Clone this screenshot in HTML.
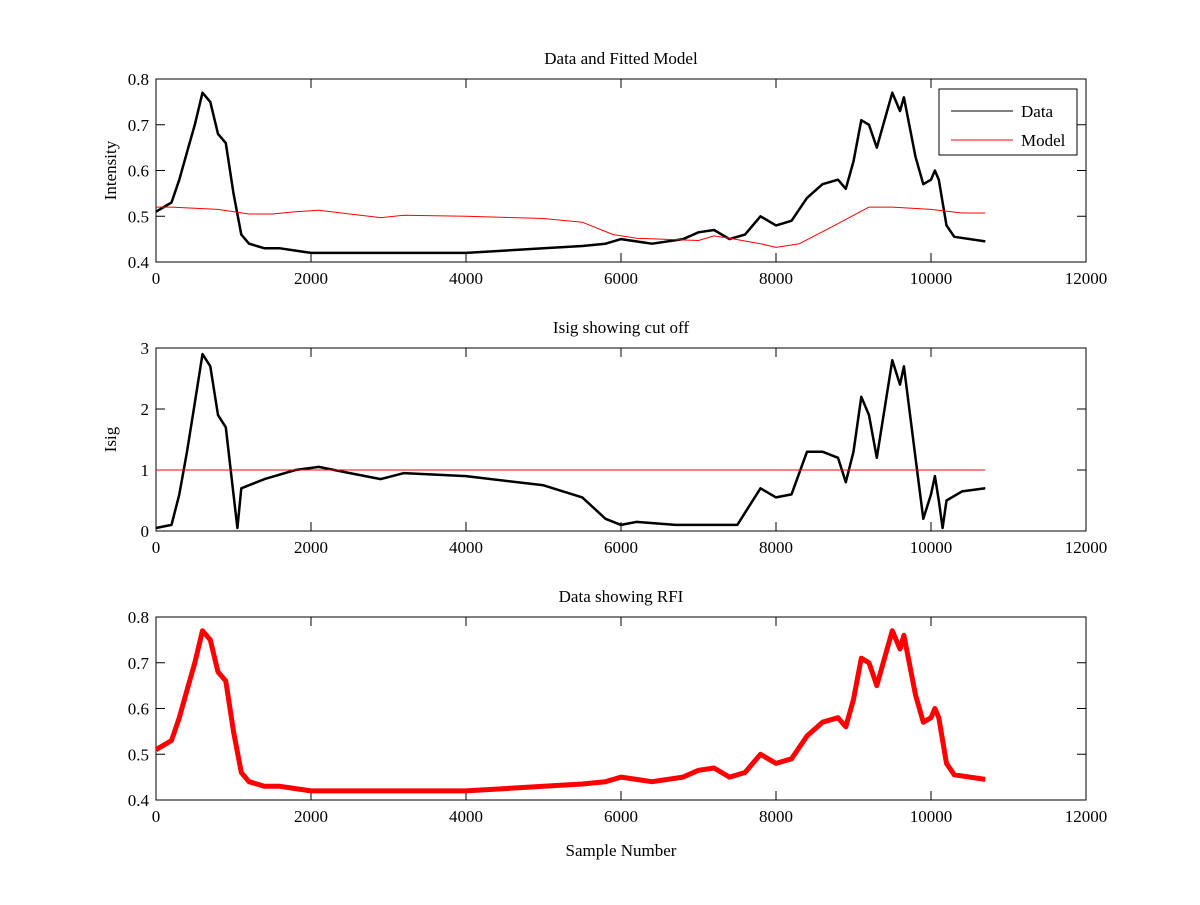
<!DOCTYPE html>
<html><head><meta charset="utf-8"><style>
body{margin:0;background:#fff}
svg text{font-family:"Liberation Serif",serif;font-size:17px;fill:#000}
</style></head><body>
<svg id="fig" width="1200" height="900" xmlns="http://www.w3.org/2000/svg"></svg>
<script>
const xTicks=[0,2000,4000,6000,8000,10000,12000];
const dataX=[0,200,300,400,500,600,700,800,900,1000,1100,1200,1400,1600,1800,2000,2500,3000,3500,4000,4500,5000,5500,5800,6000,6400,6800,7000,7200,7400,7600,7800,8000,8200,8400,8600,8800,8900,9000,9100,9200,9300,9500,9600,9650,9800,9900,10000,10050,10100,10200,10300,10700];
const dataY=[0.51,0.53,0.58,0.64,0.70,0.77,0.75,0.68,0.66,0.55,0.46,0.44,0.43,0.43,0.425,0.42,0.42,0.42,0.42,0.42,0.425,0.43,0.435,0.44,0.45,0.44,0.45,0.465,0.47,0.45,0.46,0.50,0.48,0.49,0.54,0.57,0.58,0.56,0.62,0.71,0.70,0.65,0.77,0.73,0.76,0.63,0.57,0.58,0.60,0.58,0.48,0.455,0.445];
const modelX=[0,200,800,1200,1500,1800,2100,2500,2900,3200,4000,5000,5500,5900,6200,7000,7200,7400,7800,8000,8300,8700,9200,9500,10000,10400,10700];
const modelY=[0.52,0.52,0.515,0.505,0.505,0.51,0.513,0.505,0.497,0.502,0.50,0.495,0.487,0.46,0.452,0.447,0.457,0.452,0.44,0.432,0.44,0.475,0.52,0.52,0.515,0.507,0.507];
const isigX=[0,200,300,400,500,600,700,800,900,1000,1050,1100,1400,1800,2100,2500,2900,3200,4000,5000,5500,5800,6000,6200,6700,7000,7500,7800,8000,8200,8400,8600,8800,8900,9000,9100,9200,9300,9500,9600,9650,9800,9900,10000,10050,10100,10150,10200,10400,10700];
const isigY=[0.05,0.1,0.6,1.3,2.1,2.9,2.7,1.9,1.7,0.6,0.05,0.7,0.85,1.0,1.05,0.95,0.85,0.95,0.9,0.75,0.55,0.2,0.1,0.15,0.1,0.1,0.1,0.7,0.55,0.6,1.3,1.3,1.2,0.8,1.3,2.2,1.9,1.2,2.8,2.4,2.7,1.2,0.2,0.6,0.9,0.5,0.05,0.5,0.65,0.7];
const cutX=[0,10700], cutY=[1,1];
const svg=document.getElementById('fig');
const NS='http://www.w3.org/2000/svg';
function mk(tag,attrs,parent){const e=document.createElementNS(NS,tag);for(const k in attrs)e.setAttribute(k,attrs[k]);(parent||svg).appendChild(e);return e;}
const L=156,R=1086;
function panel(name,top,bot,ymin,ymax,yTicks,yLabel,title,fmt){
  const g=mk('g',{});
  
  
  const sx=v=>L+(v-0)/12000*(R-L);
  const sy=v=>bot-(v-ymin)/(ymax-ymin)*(bot-top);
  mk('rect',{x:L,y:top,width:R-L,height:bot-top,fill:'#fff',stroke:'#000','stroke-width':1},g);
  xTicks.forEach(t=>{const x=sx(t);
    mk('line',{x1:x,x2:x,y1:bot,y2:bot-9,stroke:'#000'},g);
    mk('line',{x1:x,x2:x,y1:top,y2:top+9,stroke:'#000'},g);
    const tx=mk('text',{x:x,y:bot+22,'text-anchor':'middle'},g);tx.textContent=t;
    
    });
  yTicks.forEach(t=>{const y=sy(t);
    mk('line',{x1:L,x2:L+9,y1:y,y2:y,stroke:'#000'},g);
    mk('line',{x1:R,x2:R-9,y1:y,y2:y,stroke:'#000'},g);
    const tx=mk('text',{x:L-7,y:y+6,'text-anchor':'end'},g);tx.textContent=fmt(t);
    
    });
  const tt=mk('text',{x:(L+R)/2,y:top-15,'text-anchor':'middle'},g);tt.textContent=title;
  
  
  if(yLabel){const yl=mk('text',{x:0,y:0,'text-anchor':'middle',transform:`translate(${L-40},${(top+bot)/2}) rotate(-90)`},g);yl.textContent=yLabel;
    
    }
  return {g,sx,sy};
}
function line(p,xs,ys,color,w,name){
  const d=xs.map((x,i)=>(i?'L':'M')+p.sx(x).toFixed(1)+','+p.sy(ys[i]).toFixed(1)).join(' ');
  const e=mk('path',{d:d,fill:'none',stroke:color,'stroke-width':w,'stroke-linejoin':'round'},p.g);
  
  
}
const p1=panel('panel-data-model',79,262,0.4,0.8,[0.4,0.5,0.6,0.7,0.8],'Intensity','Data and Fitted Model',t=>t.toFixed(1));
line(p1,dataX,dataY,'#000',2.5,'data-line');
line(p1,modelX,modelY,'#f00',1,'model-line');
const lg=mk('g',{},p1.g);


mk('rect',{x:939,y:89,width:138,height:66,fill:'#fff',stroke:'#000'},lg);
mk('line',{x1:951,x2:1013,y1:111,y2:111,stroke:'#000'},lg);
mk('line',{x1:951,x2:1013,y1:140,y2:140,stroke:'#f00'},lg);
let t1=mk('text',{x:1021,y:117,'font-size':'18'},lg);t1.textContent='Data';


let t2=mk('text',{x:1021,y:146,'font-size':'18'},lg);t2.textContent='Model';


const p2=panel('panel-isig',348,531,0,3,[0,1,2,3],'Isig','Isig showing cut off',t=>String(t));
line(p2,isigX,isigY,'#000',2.5,'isig-line');
line(p2,cutX,cutY,'#f00',1,'cutoff-line');
const p3=panel('panel-rfi',617,800,0.4,0.8,[0.4,0.5,0.6,0.7,0.8],null,'Data showing RFI',t=>t.toFixed(1));
line(p3,dataX,dataY,'#f00',5,'rfi-line');
const xl=mk('text',{x:621,y:856,'text-anchor':'middle'});xl.textContent='Sample Number';


</script>
</body></html>
